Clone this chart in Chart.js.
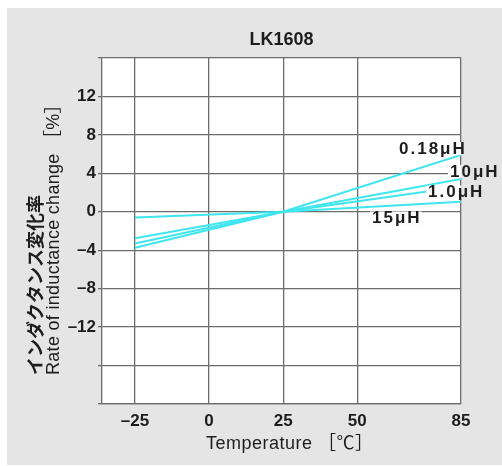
<!DOCTYPE html>
<html>
<head>
<meta charset="utf-8">
<script src="https://cdn.jsdelivr.net/npm/chart.js@4/dist/chart.umd.min.js"></script>
<style>
  html, body { margin: 0; padding: 0; background: #ffffff; }
  #wrap { width: 502px; height: 466px; position: relative; }
</style>
</head>
<body>
<div id="wrap"><canvas id="chart"></canvas></div>
<script>
// Temperature points (°C) and rate of inductance change (%) per part
const temps = [-25, 25, 85];
const uh018 = [-3.75, 0, 5.9];
const uh10 = [-3.3, 0, 3.4];
const uh1 = [-2.75, 0, 2.6];
const uh15 = [-0.6, 0, 1.05];
const seriesNames = ['0.18\u03bcH', '10\u03bcH', '1.0\u03bcH', '15\u03bcH'];

const xTicks = [-25, 0, 25, 50, 85];
const yLabelled = [-12, -8, -4, 0, 4, 8, 12];

const lineColor = '#3fe6ee';
const gridColor = '#6c6c6c';
const textColor = '#1d1d1d';
const panelGray = '#e5e5e5';
const latin = '"Liberation Sans", Arial, sans-serif';
const cjk = '"Noto Sans CJK JP", sans-serif';

const fmt = v => (v < 0 ? '\u2013' + Math.abs(v) : String(v));

function toPoints(values) {
    return temps.map((t, i) => ({ x: t, y: values[i] }));
}

// label offsets from each series' last point: [dx, dy]
const labelOffsets = [[-62, -6], [-11, -7], [-33, 6], [-89, 17]];

const backgroundPlugin = {
    id: 'panel',
    beforeDraw(chart) {
        const { ctx, chartArea: a } = chart;
        ctx.save();
        ctx.fillStyle = '#ffffff';
        ctx.fillRect(0, 0, chart.width, chart.height);
        ctx.fillStyle = panelGray;
        ctx.fillRect(7, 8, chart.width - 7, chart.height - 9);
        ctx.fillStyle = '#ffffff';
        ctx.fillRect(a.left, a.top, a.right - a.left, a.bottom - a.top);
        ctx.restore();
    }
};

const labelPlugin = {
    id: 'seriesLabels',
    afterDatasetsDraw(chart) {
        const { ctx, chartArea: a } = chart;
        ctx.save();
        ctx.font = 'bold 17px ' + latin;
        ctx.letterSpacing = '2px';
        ctx.textBaseline = 'middle';
        ctx.textAlign = 'left';
        chart.data.datasets.forEach((ds, i) => {
            const meta = chart.getDatasetMeta(i);
            const end = meta.data[meta.data.length - 1];
            const x = end.x + labelOffsets[i][0];
            const y = end.y + labelOffsets[i][1];
            const w = ctx.measureText(ds.label).width;
            const bx = x - 2, by = y - 7, bw = w + 2, bh = 13;
            ctx.fillStyle = panelGray;
            ctx.fillRect(bx, by, bw, bh);
            ctx.save();
            ctx.beginPath();
            ctx.rect(a.left, a.top, a.right - a.left, a.bottom - a.top);
            ctx.clip();
            ctx.fillStyle = '#ffffff';
            ctx.fillRect(bx, by, bw, bh);
            ctx.restore();
            ctx.fillStyle = textColor;
            ctx.fillText(ds.label, x, y);
        });
        ctx.restore();
    }
};

const titlePlugin = {
    id: 'titles',
    afterDraw(chart) {
        const { ctx, chartArea: a } = chart;
        ctx.save();
        ctx.fillStyle = textColor;
        ctx.textBaseline = 'middle';

        ctx.textAlign = 'center';
        ctx.font = 'bold 18px ' + latin;
        ctx.fillText('LK1608', (a.left + a.right) / 2, 40);

        ctx.textAlign = 'left';
        ctx.font = '18px ' + latin + ', ' + cjk;
        ctx.letterSpacing = '0.5px';
        ctx.fillText('Temperature \uff3b\u2103\uff3d', a.left + 104, 444);

        ctx.save();
        ctx.translate(35, a.bottom - 29);
        ctx.rotate(-Math.PI / 2);
        ctx.letterSpacing = '0px';
        ctx.font = 'bold 18px ' + cjk;
        ctx.fillText('インダクタンス変化率', 0, 0);
        ctx.restore();

        ctx.save();
        ctx.translate(54, a.bottom - 29);
        ctx.rotate(-Math.PI / 2);
        ctx.letterSpacing = '0.3px';
        ctx.font = '18px ' + latin + ', ' + cjk;
        ctx.fillText('Rate of inductance change \uff3b%\uff3d', 0, 0);
        ctx.restore();

        ctx.restore();
    }
};

const datasets = [uh018, uh10, uh1, uh15].map((vals, i) => ({
    label: seriesNames[i],
    data: toPoints(vals),
    borderColor: lineColor,
    backgroundColor: lineColor,
    borderWidth: 2,
    pointRadius: 0,
    tension: 0,
    fill: false
}));

new Chart(document.getElementById('chart').getContext('2d'), {
    type: 'line',
    data: { datasets: datasets },
    options: {
        responsive: true,
        maintainAspectRatio: false,
        animation: false,
        layout: { padding: { left: 0, top: 58, right: 41, bottom: 0 } },
        plugins: {
            legend: { display: false },
            tooltip: { enabled: false }
        },
        scales: {
            x: {
                type: 'linear',
                min: -36.13,
                max: 85,
                afterBuildTicks: s => { s.ticks = xTicks.map(v => ({ value: v })); },
                afterFit: s => { s.height = 62; },
                grid: { color: gridColor, lineWidth: 1.3, drawTicks: false },
                border: { color: gridColor, width: 1.3 },
                ticks: {
                    color: textColor,
                    padding: 7,
                    maxRotation: 0,
                    font: { family: latin, size: 17, weight: 'bold' },
                    callback: v => fmt(v)
                }
            },
            y: {
                min: -20,
                max: 16,
                afterFit: s => { s.width = 102; },
                grid: { color: gridColor, lineWidth: 1.3, tickLength: 4 },
                border: { color: gridColor, width: 1.3 },
                ticks: {
                    stepSize: 4,
                    color: textColor,
                    padding: 2,
                    font: { family: latin, size: 17, weight: 'bold' },
                    callback: v => (yLabelled.includes(v) ? fmt(v) : '')
                }
            }
        }
    },
    plugins: [backgroundPlugin, labelPlugin, titlePlugin]
});
</script>
</body>
</html>
